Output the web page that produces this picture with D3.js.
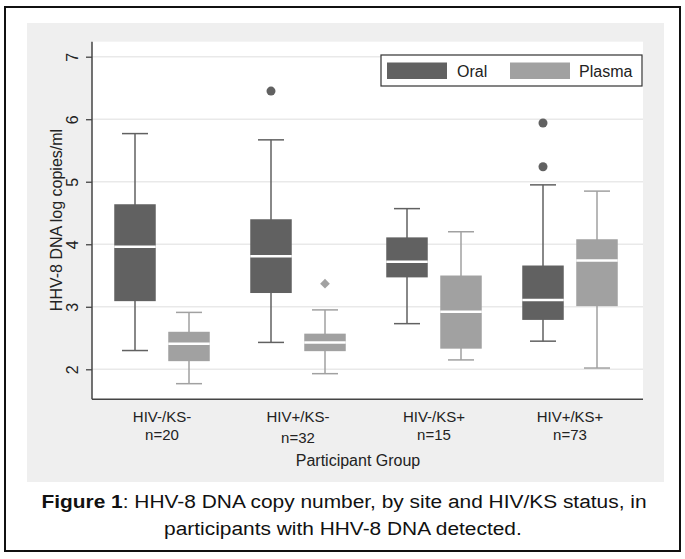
<!DOCTYPE html>
<html><head><meta charset="utf-8">
<script src="https://cdn.jsdelivr.net/npm/d3@7"></script>
<style>body{margin:0;background:#fff}svg{display:block;font-family:"Liberation Sans",Arial,sans-serif}</style>
</head><body><svg id="c" width="685" height="559"></svg>
<script>
const groups = ["HIV-/KS-","HIV+/KS-","HIV-/KS+","HIV+/KS+"];
const nLabels = ["n=20","n=32","n=15","n=73"];
const series = ["Oral","Plasma"];
// box stats per group: [lowerWhisker, q1, median, q3, upperWhisker]
const oralStats = [
  [2.30,3.09,3.96,4.64,5.77],
  [2.43,3.22,3.81,4.40,5.67],
  [2.73,3.47,3.72,4.11,4.57],
  [2.45,2.79,3.11,3.66,4.95]
];
const plasmaStats = [
  [1.77,2.13,2.41,2.60,2.91],
  [1.93,2.29,2.43,2.57,2.95],
  [2.15,2.33,2.92,3.50,4.20],
  [2.02,3.01,3.74,4.08,4.85]
];
const oralOutliers = [[],[6.45],[],[5.94,5.24]];
const plasmaOutliers = [[],[3.37],[],[]];
const yTicks = [2,3,4,5,6,7];
const colors = {Oral:"#616161", Plasma:"#a1a1a1"};

const svg = d3.select("#c");
svg.append("rect").attr("x",5).attr("y",7).attr("width",675).attr("height",544)
  .attr("fill","#fff").attr("stroke","#111").attr("stroke-width",2);
svg.append("rect").attr("x",27).attr("y",23).attr("width",637).attr("height",459).attr("fill","#efefef");

const L=92,R=643,T=41.7,B=399.3;
svg.append("rect").attr("x",L).attr("y",T).attr("width",R-L).attr("height",B-T).attr("fill","#fff");

const y = d3.scaleLinear().domain([1.52,7.24]).range([B,T]);
const x = d3.scaleBand().domain(groups).range([94,638]);
const bw = x.bandwidth();
const xs = d3.scaleBand().domain(series).range([bw/2-54, bw/2+54]);
const boxW = 41.5, capW = 26;

// grid
svg.append("g").selectAll("line").data(yTicks).join("line")
  .attr("x1",L).attr("x2",R).attr("y1",d=>y(d)).attr("y2",d=>y(d))
  .attr("stroke","#e9e9e9").attr("stroke-width",1.5);

// y axis
const yAxis = svg.append("g").attr("transform",`translate(${L},0)`)
  .call(d3.axisLeft(y).tickValues(yTicks).tickSize(6).tickPadding(0).tickFormat(d3.format("d")));
yAxis.select(".domain").remove();
yAxis.selectAll(".tick line").attr("stroke","#444").attr("stroke-width",1.3);
yAxis.selectAll(".tick text").attr("font-size",16).attr("fill","#222")
  .attr("transform","translate(-20,0) rotate(-90)").attr("text-anchor","middle").attr("x",0).attr("dy","0.35em");
svg.append("line").attr("x1",L).attr("x2",L).attr("y1",T).attr("y2",B).attr("stroke","#444").attr("stroke-width",1.5);
svg.append("line").attr("x1",L).attr("x2",R).attr("y1",B).attr("y2",B).attr("stroke","#444").attr("stroke-width",1.5);

// x labels
const xAxis = svg.append("g").attr("transform",`translate(0,${B})`)
  .call(d3.axisBottom(x).tickSize(0).tickFormat(""));
xAxis.select(".domain").remove();
const xl = svg.append("g");
groups.forEach((g,i)=>{
  const t = xl.append("text").attr("x",x(g)+bw/2).attr("y",421.5).attr("text-anchor","middle")
    .attr("font-size",15).attr("fill","#222");
  t.append("tspan").attr("x",x(g)+bw/2).text(g);
  t.append("tspan").attr("x",x(g)+bw/2).attr("dy",i===1?21:18.5).text(nLabels[i]);
});
svg.append("text").attr("x",358).attr("y",466).attr("text-anchor","middle").attr("font-size",16).attr("fill","#222").text("Participant Group");
svg.append("text").attr("transform","translate(62,220) rotate(-90)").attr("text-anchor","middle")
  .attr("font-size",16).attr("fill","#222").text("HHV-8 DNA log copies/ml");

// boxes
function drawSeries(name, stats, outs){
  const g = svg.append("g");
  stats.forEach((s,i)=>{
    const cx = x(groups[i]) + xs(name) + xs.bandwidth()/2;
    const c = colors[name];
    g.append("line").attr("x1",cx).attr("x2",cx).attr("y1",y(s[0])).attr("y2",y(s[4])).attr("stroke",c).attr("stroke-width",1.5);
    [s[0],s[4]].forEach(v=>g.append("line").attr("x1",cx-capW/2).attr("x2",cx+capW/2).attr("y1",y(v)).attr("y2",y(v)).attr("stroke",c).attr("stroke-width",1.5));
    g.append("rect").attr("x",cx-boxW/2).attr("width",boxW).attr("y",y(s[3])).attr("height",y(s[1])-y(s[3])).attr("fill",c);
    g.append("line").attr("x1",cx-boxW/2).attr("x2",cx+boxW/2).attr("y1",y(s[2])).attr("y2",y(s[2])).attr("stroke","#fff").attr("stroke-width",2.5);
    outs[i].forEach(v=>{
      if(name==="Oral") g.append("circle").attr("cx",cx).attr("cy",y(v)).attr("r",4.5).attr("fill",c);
      else g.append("path").attr("d",d3.symbol(d3.symbolDiamond2,60)()).attr("transform",`translate(${cx},${y(v)})`).attr("fill",c);
    });
  });
}
drawSeries("Oral", oralStats, oralOutliers);
drawSeries("Plasma", plasmaStats, plasmaOutliers);

// legend
const lg = svg.append("g");
lg.append("rect").attr("x",381).attr("y",55).attr("width",261).attr("height",31).attr("fill","#fff").attr("stroke","#333").attr("stroke-width",1.2);
[["Oral",387,457],["Plasma",510,579]].forEach(([n,sx,tx])=>{
  lg.append("rect").attr("x",sx).attr("y",62.5).attr("width",60).attr("height",16.5).attr("fill",colors[n]);
  lg.append("text").attr("x",tx).attr("y",76.5).attr("font-size",16).attr("fill","#222").text(n);
});

// caption (slightly widened horizontally like the reference)
const capG = svg.append("g").attr("transform","translate(344,0) scale(1.1,1)");
const cap = capG.append("text").attr("x",0).attr("y",508).attr("text-anchor","middle").attr("font-size",19).attr("fill","#111");
cap.append("tspan").attr("font-weight","bold").text("Figure 1");
cap.append("tspan").text(": HHV-8 DNA copy number, by site and HIV/KS status, in");
capG.append("text").attr("x",-1).attr("y",535).attr("text-anchor","middle").attr("font-size",19).attr("fill","#111")
  .text("participants with HHV-8 DNA detected.");
</script></body></html>
